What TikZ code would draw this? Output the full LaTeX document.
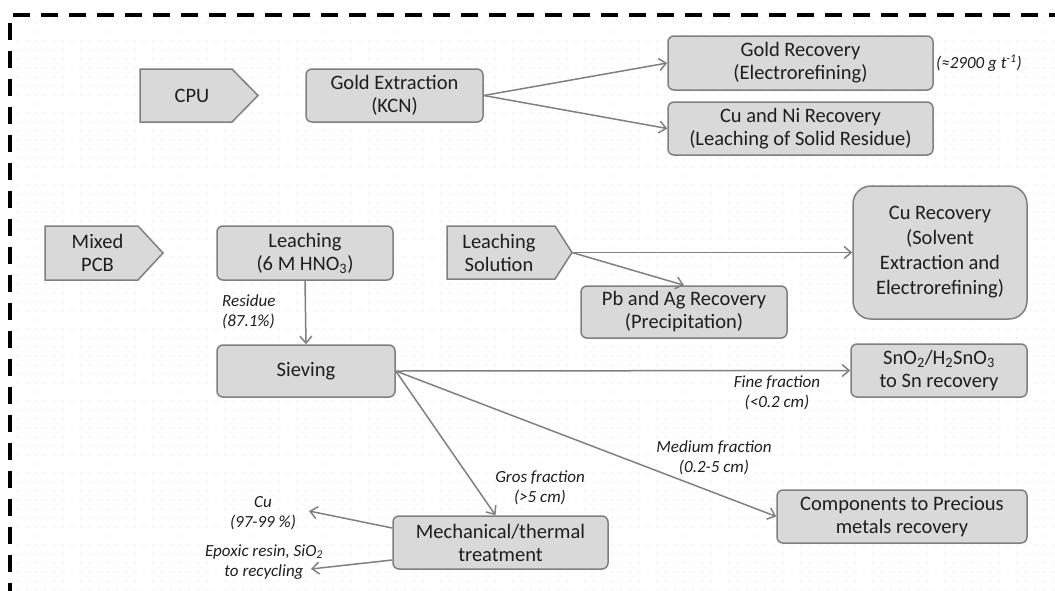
\documentclass[tikz,border=0pt]{standalone}
\usepackage{fontspec}
\setmainfont{Carlito}
\usetikzlibrary{arrows.meta,calc,patterns.meta}
\definecolor{boxfill}{HTML}{D9D9D9}
\definecolor{boxline}{HTML}{7F7F7F}
\definecolor{arr}{HTML}{808080}
\definecolor{txt}{HTML}{1E1E1E}
\begin{document}
\begin{tikzpicture}[x=1pt,y=-1pt,
  box/.style={draw=boxline, fill=boxfill, line width=1.5pt, rounded corners=6pt,
    align=center, font=\fontsize{20.5}{23}\selectfont, text=txt, inner sep=0pt},
  pentlabel/.style={align=center, font=\fontsize{20.5}{23}\selectfont, text=txt, inner sep=0pt},
  pentshape/.style={draw=boxline, fill=boxfill, line width=1.5pt, line join=miter},
  lab/.style={font=\fontsize{17}{20}\selectfont\itshape, text=txt, align=center, inner sep=0pt},
  flow/.style={draw=arr, line width=1.5pt, -{Straight Barb[length=7pt,width=12pt]}},
  frame/.style={line width=4pt, dash pattern=on 17pt off 11pt}]
\useasboundingbox (0,0) rectangle (1055,590);
% background texture
\fill[pattern={Dots[distance=9pt,radius=0.6pt]}, pattern color=gray!30] (12,17) rectangle (1055,590);
% frame
\draw[frame] (10,600) -- (10,15) -- (1070,15);

% pentagons
\draw[pentshape] (140,69) -- (232,69) -- (258,95.5) -- (232,122) -- (140,122) -- cycle;
\node[pentlabel] (cpu) at (192,95.5) {CPU};
\coordinate (cputip) at (258,95.5);

\draw[pentshape] (45,226) -- (138,226) -- (163,253) -- (138,280) -- (45,280) -- cycle;
\node[pentlabel] (mpcb) at (97.5,253) {Mixed\\PCB};
\coordinate (mpcbtip) at (163,253);

\draw[pentshape] (447,226) -- (555,226) -- (572,252.5) -- (555,279) -- (447,279) -- cycle;
\node[pentlabel] (lsol) at (499,252.5) {Leaching\\Solution};
\coordinate (lstip) at (572,252.5);

% boxes
\node[box, minimum width=177, minimum height=53] (gext) at (394.5,95.5) {Gold Extraction\\(KCN)};
\node[box, minimum width=265, minimum height=54] (grec) at (800.5,63) {Gold Recovery\\(Electrorefining)};
\node[box, minimum width=265, minimum height=53] (cuni) at (800.5,128.5) {Cu and Ni Recovery\\(Leaching of Solid Residue)};
\node[box, minimum width=176, minimum height=54] (leach) at (305,253) {Leaching\\(6 M HNO\textsubscript{3})};
\node[box, rounded corners=18pt, minimum width=174, minimum height=133,
  font=\fontsize{20.5}{25}\selectfont] (curec) at (940,252.5) {Cu Recovery\\(Solvent\\Extraction and\\Electrorefining)};
\node[box, minimum width=206, minimum height=52] (pbag) at (684,312) {Pb and Ag Recovery\\(Precipitation)};
\node[box, minimum width=178, minimum height=52] (siev) at (306,371) {Sieving};
\node[box, minimum width=176, minimum height=53] (sno) at (939,370.5) {SnO\textsubscript{2}/H\textsubscript{2}SnO\textsubscript{3}\\to Sn recovery};
\node[box, minimum width=250, minimum height=53] (comp) at (902,516.5) {Components to Precious\\metals recovery};
\node[box, minimum width=215, minimum height=53] (mech) at (500.5,542.5) {Mechanical/thermal\\treatment};

% free ends
\coordinate (cuend) at (309,511);
\coordinate (epend) at (311,569);

% connectors
\draw[flow] (gext.east) -- (grec.west);
\draw[flow] (gext.east) -- (cuni.west);
\draw[flow] (lstip) -- (curec.west);
\draw[flow] (lstip) -- (pbag.north);
\draw[flow] (leach.south) -- (siev.north);
\draw[flow] (siev.east) -- (sno.west);
\draw[flow] (siev.east) -- (comp.west);
\draw[flow] (siev.east) -- ($(mech.north)+(-5,0)$);
\draw[flow] ($(mech.west)+(0,-14.5)$) -- (cuend);
\draw[flow] ($(mech.west)+(0,17.5)$) -- (epend);

% labels
\node[lab] (gnote) at (979,63) {(≈2900 g t\textsuperscript{-1})};
\node[lab, anchor=west, align=left] (resid) at (222,312) {Residue\\(87.1\%)};
\node[lab] (fine) at (777,393) {Fine fraction\\(<0.2 cm)};
\node[lab] (medium) at (714,458) {Medium fraction\\(0.2-5 cm)};
\node[lab] (gros) at (540,488) {Gros fraction\\(>5 cm)};
\node[lab] (culab) at (263,513) {Cu\\(97-99 \%)};
\node[lab] (eplab) at (264,562) {Epoxic resin, SiO\textsubscript{2}\\to recycling};
\end{tikzpicture}
\end{document}
